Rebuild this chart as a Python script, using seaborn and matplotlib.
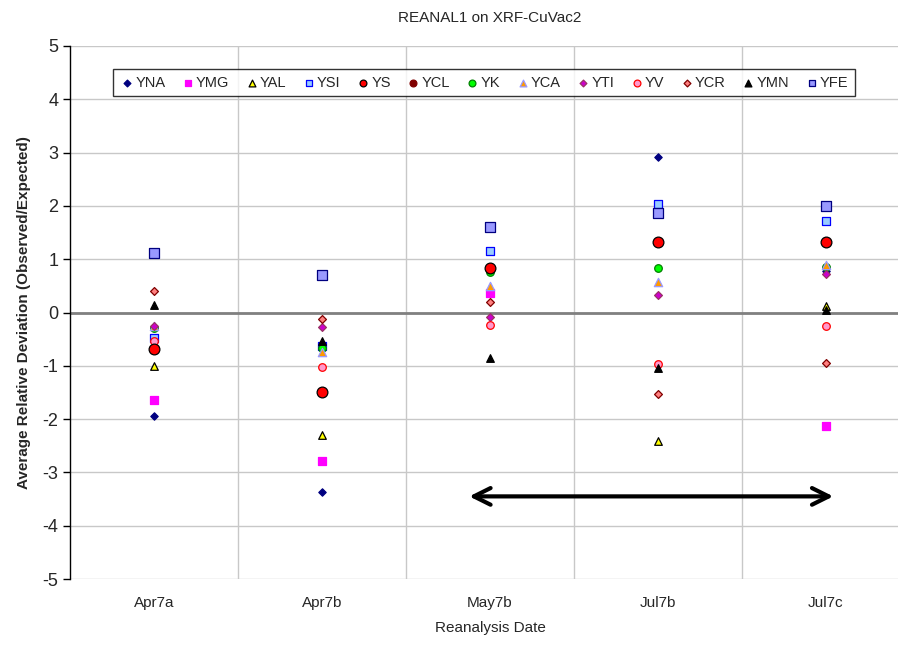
import matplotlib
matplotlib.use("Agg")
import matplotlib.pyplot as plt
import numpy as np
import pandas as pd
import seaborn as sns

dates = ["Apr7a", "Apr7b", "May7b", "Jul7b", "Jul7c"]

# Average relative deviation per element, one value per reanalysis date.
nan = np.nan
YNA = [-1.95, -3.37, nan, 2.91, 0.77]
YMG = [-1.65, -2.79, 0.37, nan, -2.13]
YAL = [-1.00, -2.29, nan, -2.42, 0.12]
YSI = [-0.47, -0.63, 1.15, 2.03, 1.71]
YS = [-0.69, -1.50, 0.83, 1.32, 1.33]
YCL = [-0.69, -1.50, 0.82, 1.32, 1.33]
YK = [-0.30, -0.66, 0.76, 0.83, 0.85]
YCA = [-0.26, -0.74, 0.49, 0.57, 0.90]
YTI = [-0.25, -0.28, -0.08, 0.33, 0.72]
YV = [-0.54, -1.03, -0.24, -0.96, -0.26]
YCR = [0.41, -0.13, 0.20, -1.52, -0.95]
YMN = [0.15, -0.54, -0.86, -1.04, 0.04]
YFE = [1.11, 0.71, 1.60, 1.86, 2.00]

series = {
    "YNA": YNA, "YMG": YMG, "YAL": YAL, "YSI": YSI, "YS": YS,
    "YCL": YCL, "YK": YK, "YCA": YCA, "YTI": YTI, "YV": YV,
    "YCR": YCR, "YMN": YMN, "YFE": YFE,
}

# marker, face colour, edge colour, size, zorder
styles = {
    "YNA": ("D", "#000080", "#000080", 14, 3),
    "YMG": ("s", "#FF00FF", "#FF00FF", 30, 3),
    "YAL": ("^", "#FFFF00", "#000000", 30, 3),
    "YSI": ("s", "#99CCFF", "#0000FF", 30, 3),
    "YS": ("o", "#FF0000", "#000000", 60, 4),
    "YCL": ("o", "#800000", "#800000", 30, 2.5),
    "YK": ("o", "#00FF00", "#008000", 30, 3),
    "YCA": ("^", "#FF9900", "#9999FF", 36, 3),
    "YTI": ("D", "#CC00CC", "#993366", 16, 3),
    "YV": ("o", "#FF99CC", "#FF0000", 30, 3),
    "YCR": ("D", "#FF8080", "#800000", 16, 3),
    "YMN": ("^", "#000000", "#000000", 30, 3),
    "YFE": ("s", "#9999FF", "#000080", 50, 3),
}

df = pd.DataFrame(series)
df["Date"] = dates
df = df.melt(id_vars="Date", var_name="Element", value_name="Deviation")
df["pos"] = pd.Categorical(df["Date"], categories=dates).codes

sns.set_style("white")
plt.rcParams["font.family"] = ["Liberation Sans", "DejaVu Sans"]
plt.rcParams["axes.unicode_minus"] = False

fig = plt.figure(figsize=(8.98, 6.52), dpi=100)
ax = fig.add_axes([70 / 898, 73 / 652, 840 / 898, 533 / 652])

for name in series:
    marker, face, edge, size, z = styles[name]
    sub = df[df["Element"] == name]
    sns.scatterplot(
        data=sub, x="pos", y="Deviation", ax=ax,
        marker=marker, color=face, edgecolor=edge, linewidth=0.9,
        s=size, label=name, zorder=z,
    )

ax.set_xlim(-0.5, len(dates) - 0.5)
ax.set_ylim(-5, 5)
ax.set_yticks(np.arange(-5, 6, 1))
ax.set_xticks(range(len(dates)))
ax.set_xticklabels(dates, fontsize=11)
ax.set_xticks(np.arange(0.5, len(dates) - 0.5, 1), minor=True)
ax.tick_params(axis="y", labelsize=13, direction="out", length=5,
               width=1, color="black", left=True)
ax.tick_params(axis="x", length=0, which="both", pad=12)
ax.grid(True, axis="y", color="#C8C8C8", lw=1)
ax.grid(True, axis="x", which="minor", color="#C8C8C8", lw=1)
ax.grid(False, axis="x", which="major")
ax.set_axisbelow(True)
ax.axhline(0, color="#808080", lw=2, zorder=1)
for side in ["top", "right", "bottom"]:
    ax.spines[side].set_visible(False)
ax.spines["left"].set_color("black")
ax.spines["left"].set_linewidth(1)

ax.set_title("REANAL1 on XRF-CuVac2", fontsize=11, pad=17)
ax.set_xlabel("Reanalysis Date", fontsize=11, labelpad=8)
ax.set_ylabel("Average Relative Deviation (Observed/Expected)",
              fontsize=11, fontweight="bold", labelpad=8)

ax.annotate(
    "", xy=(1.86, -3.45), xytext=(4.06, -3.45),
    arrowprops=dict(arrowstyle="<->", lw=3, color="black",
                    mutation_scale=30),
)

leg = ax.legend(
    loc="upper left", bbox_to_anchor=(36 / 840, 1 - 16 / 533),
    ncol=13, fontsize=10.5, frameon=True, fancybox=False,
    handletextpad=0.05, columnspacing=1.05, handlelength=1.0,
    borderpad=0.45, edgecolor="black",
)
leg.get_frame().set_linewidth(1)
for h, name in zip(leg.legend_handles, series):
    h.set_sizes([12 if styles[name][0] == "D" else 24])

fig.savefig("out.png", dpi=100)
